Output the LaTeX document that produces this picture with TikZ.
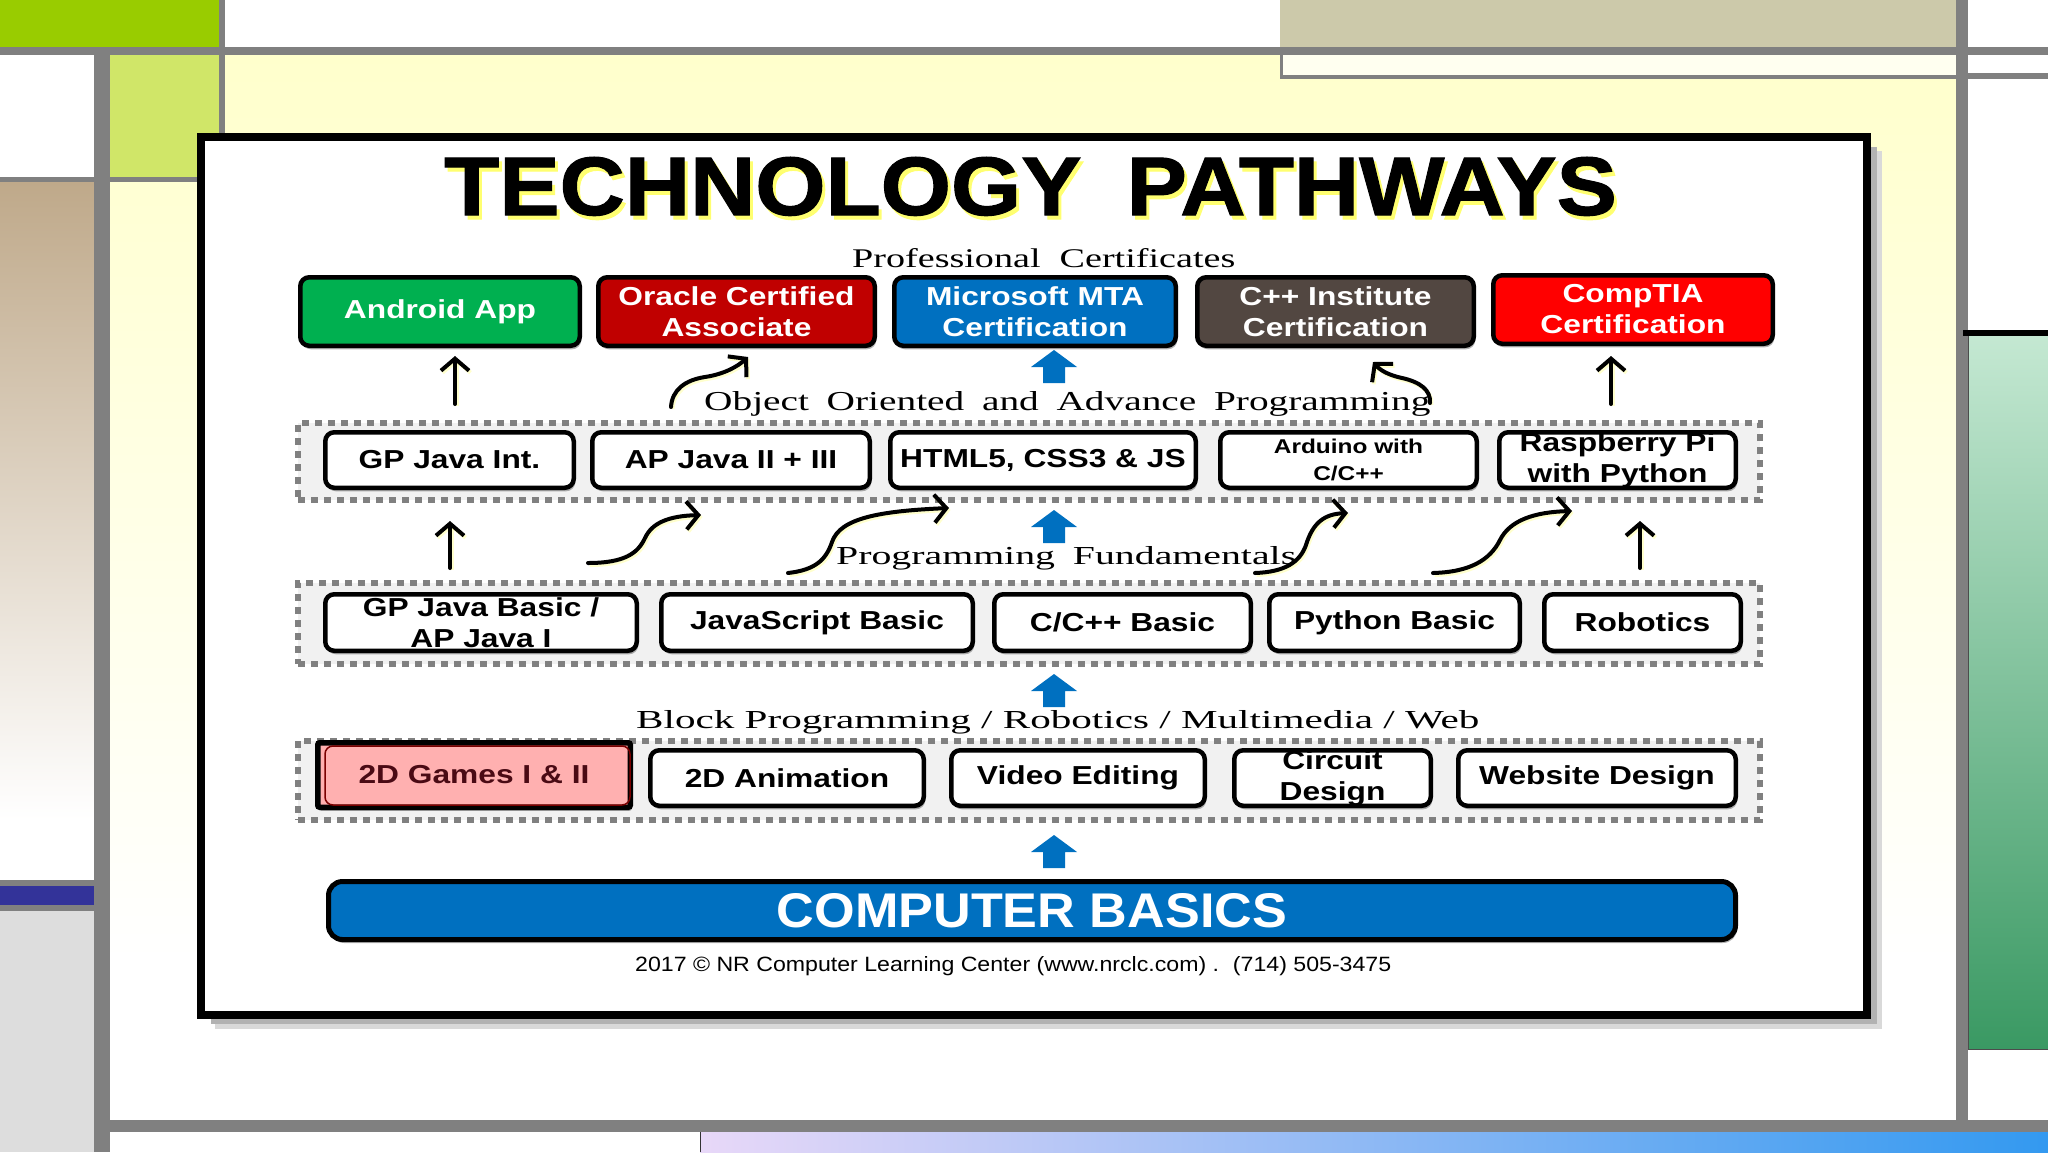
\documentclass[tikz,border=0pt]{standalone}
\usepackage{fontspec}
\setmainfont{Liberation Serif}
\setsansfont{Liberation Sans}
\newfontfamily\bxfont[FakeStretch=1.22]{Liberation Sans}
\newfontfamily\ttlfont[FakeBold=1.2]{Liberation Sans}
\usepackage{graphicx}
\usetikzlibrary{arrows.meta,calc,shadows}
\definecolor{cgreen}{HTML}{00B050}
\definecolor{cdred}{HTML}{C00000}
\definecolor{cblue}{HTML}{0070C0}
\definecolor{cbrown}{HTML}{524741}
\definecolor{cred}{HTML}{FF0000}
\definecolor{cpink}{HTML}{FFB0B0}
\definecolor{gametxt}{HTML}{4A0A14}
\definecolor{gameline}{HTML}{7A0000}
\definecolor{cgray}{HTML}{808080}
\definecolor{rowfill}{HTML}{F1F1F1}
\definecolor{lime}{HTML}{99CC00}
\definecolor{limelt}{HTML}{D0E668}
\definecolor{tanc}{HTML}{CCC9AA}
\definecolor{tanb}{HTML}{BFA98A}
\definecolor{pyellow}{HTML}{FFFFCC}
\definecolor{navyc}{HTML}{333399}
\definecolor{lgray}{HTML}{DDDDDD}
\definecolor{mint}{HTML}{C4E8D2}
\definecolor{dgreen}{HTML}{3A9963}
\definecolor{lav}{HTML}{E8D8F8}
\definecolor{skyb}{HTML}{3399F0}
\definecolor{glowy}{HTML}{FFFF70}
\tikzset{
  box/.style={draw=black, line width=4.5pt, rounded corners=9pt, inner sep=0pt, align=center,
    font=\bxfont\bfseries\fontsize{26}{31}\selectfont,
    drop shadow={shadow xshift=1.5pt, shadow yshift=-3.5pt, opacity=0.3, fill=black}},
  cbox/.style={box, minimum height=68.5pt, text=white},
  wbox/.style={box, fill=white, text=black, minimum height=55.5pt},
  rowbox/.style={draw=cgray, fill=rowfill, line width=6pt, dash pattern=on 7pt off 6pt,
    minimum width=1462pt, inner sep=0pt},
  uparr/.style={line width=4pt, line cap=round,
    -{Straight Barb[length=12pt,width=28pt,line width=4pt]},
    preaction={draw=glowy, line width=4pt, opacity=0.35, transform canvas={xshift=1.5pt,yshift=-2pt}}},
  lbl/.style={inner sep=0pt, anchor=base west},
  blockarrow/.pic={\fill[cblue] (-11,0) -- (-11,-16) -- (-23,-16) -- (0,-33) -- (23,-16) -- (11,-16) -- (11,0) -- cycle;}
}
\begin{document}
\begin{tikzpicture}[x=1pt,y=-1pt]
\useasboundingbox (0,0) rectangle (2048,1152);
% ---------- background ----------
\fill[white] (0,0) rectangle (2048,1152);
\shade[top color=pyellow, bottom color=white] (110,55) rectangle (1956,960);
\fill[lime] (0,0) rectangle (219,47);
\fill[tanc] (1280,0) rectangle (1956,47);
\fill[cgray] (0,47) rectangle (2048,55);
\fill[cgray] (219,0) rectangle (225,182);
\fill[white] (0,55) rectangle (94,177);
\fill[limelt] (110,55) rectangle (219,177);
\fill[cgray] (0,177) rectangle (225,182);
\shade[top color=tanb, bottom color=white] (0,182) rectangle (94,820);
\fill[cgray] (0,880) rectangle (94,886);
\fill[navyc] (0,886) rectangle (94,905);
\fill[cgray] (0,905) rectangle (94,911);
\fill[lgray] (0,911) rectangle (94,1152);
\fill[cgray] (94,55) rectangle (110,1152);
\fill[cgray] (1956,0) rectangle (1968,1152);
\fill[white!70!pyellow] (1283,55) rectangle (1956,75);
\fill[cgray] (1280,55) rectangle (1283,79);
\fill[cgray] (1280,75) rectangle (1956,79);
\fill[cgray] (1968,73) rectangle (2048,79);
\fill[black] (1963,330) rectangle (2048,336);
\shade[top color=mint, bottom color=dgreen] (1968,336) rectangle (2048,1049);
\draw[black!70, line width=1pt] (1968.5,336) -- (1968.5,1049) -- (2048,1049);
\fill[cgray] (110,1120) rectangle (2048,1132);
\shade[left color=lav, right color=skyb] (700,1132) rectangle (2048,1152);
\draw[black!80, line width=1pt] (700.5,1152) -- (700.5,1132);
% ---------- frame ----------
\fill[black!15] (215,151) rectangle (1882,1029);
\fill[black!30] (211,147) rectangle (1877,1024);
\draw[line width=8pt, fill=white] (201,137) rectangle (1867,1015);
% ---------- title ----------
\node[lbl, text=glowy] (titleglow) at (447,219) {\resizebox{1172pt}{58pt}{\ttlfont\bfseries TECHNOLOGY\hspace{0.5em}PATHWAYS}};
\node[lbl] (title) at (444,215) {\resizebox{1172pt}{58pt}{\ttlfont\bfseries TECHNOLOGY\hspace{0.5em}PATHWAYS}};
% ---------- labels ----------
\node[lbl] (profcert) at (852,267) {\resizebox{383pt}{19pt}{Professional\hspace{0.5em}Certificates}};
\node[lbl] (oop) at (704,410) {\resizebox{726pt}{19pt}{Object\hspace{0.45em}Oriented\hspace{0.45em}and\hspace{0.45em}Advance\hspace{0.45em}Programming}};
\node[lbl] (fund) at (836,564) {\resizebox{460pt}{18pt}{Programming\hspace{0.45em}Fundamentals}};
\node[lbl] (blockp) at (636,728) {\resizebox{843pt}{18pt}{Block Programming / Robotics / Multimedia / Web}};
% ---------- certificate row ----------
\node[cbox, fill=cgreen, minimum width=279.5pt] (android) at (440,311.5) {Android App};
\node[cbox, fill=cdred, minimum width=276.5pt] (oracle) at (736.5,311.5) {Oracle Certified\\Associate};
\node[cbox, fill=cblue, minimum width=281.5pt] (msmta) at (1035,311.5) {Microsoft MTA\\Certification};
\node[cbox, fill=cbrown, minimum width=276.5pt] (cppinst) at (1335.5,311.5) {C++ Institute\\Certification};
\node[cbox, fill=cred, minimum width=279.5pt] (comptia) at (1633,309.5) {CompTIA\\Certification};
% ---------- containers ----------
\node[rowbox, minimum height=77pt] (rowA) at (1029,461.5) {};
\node[rowbox, minimum height=81pt] (rowB) at (1029,623.5) {};
\node[rowbox, minimum height=79pt] (rowC) at (1029,780.5) {};
% ---------- row A ----------
\node[wbox, minimum width=248.5pt] (gpint) at (449.5,460) {GP Java Int.};
\node[wbox, minimum width=277.5pt] (apjava) at (731,460) {AP Java II + III};
\node[wbox, minimum width=305.5pt] (html) at (1043,460) {HTML5, CSS3 \& JS};
\node[wbox, minimum width=256.5pt, font=\bxfont\bfseries\fontsize{20}{27}\selectfont] (arduino) at (1348.5,460) {Arduino with\\C/C++};
\node[wbox, minimum width=236.5pt] (rpi) at (1617.5,460) {Raspberry Pi\\with Python};
% ---------- row B ----------
\node[wbox, minimum width=311.5pt, minimum height=56.5pt] (gpbasic) at (481,622.5) {GP Java Basic /\\AP Java I};
\node[wbox, minimum width=311.5pt, minimum height=56.5pt] (jsbasic) at (817,622.5) {JavaScript Basic};
\node[wbox, minimum width=256.5pt, minimum height=56.5pt] (cbasic) at (1122.5,622.5) {C/C++ Basic};
\node[wbox, minimum width=250.5pt, minimum height=56.5pt] (pybasic) at (1394.5,622.5) {Python Basic};
\node[wbox, minimum width=196.5pt, minimum height=56.5pt] (robotics) at (1642.5,622.5) {Robotics};
% ---------- row C ----------
\node[box, fill=cpink, text=gametxt, line width=5.5pt, rounded corners=2pt, minimum width=312.5pt, minimum height=64.5pt] (games) at (474,775) {2D Games I \& II};
\draw[gameline, line width=1.5pt, rounded corners=8pt] ($(games.north west)+(10,6)$) rectangle ($(games.south east)+(-3,-5)$);
\node[wbox, minimum width=273.5pt] (anim) at (787,778) {2D Animation};
\node[wbox, minimum width=253.5pt] (video) at (1078,778) {Video Editing};
\node[wbox, minimum width=196.5pt] (circuit) at (1332.5,778) {Circuit\\Design};
\node[wbox, minimum width=277.5pt] (website) at (1597,778) {Website Design};
% ---------- computer basics ----------
\node[box, fill=cblue, text=white, line width=5pt, rounded corners=14pt, minimum width=1407pt, minimum height=58pt] (cbasics) at (1032,910.5) {\resizebox{510pt}{34pt}{\sffamily\bfseries COMPUTER BASICS}};
\node[lbl] (footer) at (635,971) {\resizebox{756pt}{15pt}{\sffamily 2017 © NR Computer Learning Center (www.nrclc.com) .\hspace{0.6em}(714) 505-3475}};
% ---------- blue block arrows ----------
\pic at (1054,383) {blockarrow};
\pic at (1054,543) {blockarrow};
\pic at (1054,707) {blockarrow};
\pic at (1054,868) {blockarrow};
% ---------- arrow end points ----------
\coordinate (s1) at (455,404); \coordinate (e1) at (455,356);
\coordinate (s2) at (1611,404); \coordinate (e2) at (1611,356);
\coordinate (s3) at (450,568); \coordinate (e3) at (450,521);
\coordinate (s4) at (1640,568); \coordinate (e4) at (1640,521);
\coordinate (cAs) at (671,407); \coordinate (cAe) at (748,357);
\coordinate (cBs) at (1430,403); \coordinate (cBe) at (1373,362);
\coordinate (cCs) at (588,563); \coordinate (cCe) at (701,515);
\coordinate (cDs) at (788,573); \coordinate (cDe) at (949,508);
\coordinate (cEs) at (1255,573); \coordinate (cEe) at (1348,513);
\coordinate (cFs) at (1433,573); \coordinate (cFe) at (1572,511);
% ---------- arrows ----------
\draw[uparr] (s1) -- (e1);
\draw[uparr] (s2) -- (e2);
\draw[uparr] (s3) -- (e3);
\draw[uparr] (s4) -- (e4);
\draw[uparr] (cAs) .. controls (672,390) and (685,380) .. (705,377) .. controls (725,374) and (738,366) .. (cAe);
\draw[uparr] (cBs) .. controls (1431,390) and (1420,382) .. (1402,378) .. controls (1388,375) and (1380,370) .. (cBe);
\draw[uparr] (cCs) .. controls (625,563) and (638,553) .. (645,538) .. controls (652,523) and (668,516) .. (cCe);
\draw[uparr] (cDs) .. controls (815,570) and (826,560) .. (832,542) .. controls (840,518) and (880,511) .. (cDe);
\draw[uparr] (cEs) .. controls (1285,572) and (1300,562) .. (1306,545) .. controls (1313,522) and (1325,514) .. (cEe);
\draw[uparr] (cFs) .. controls (1470,572) and (1490,560) .. (1500,540) .. controls (1510,520) and (1535,512) .. (cFe);
\end{tikzpicture}
\end{document}
